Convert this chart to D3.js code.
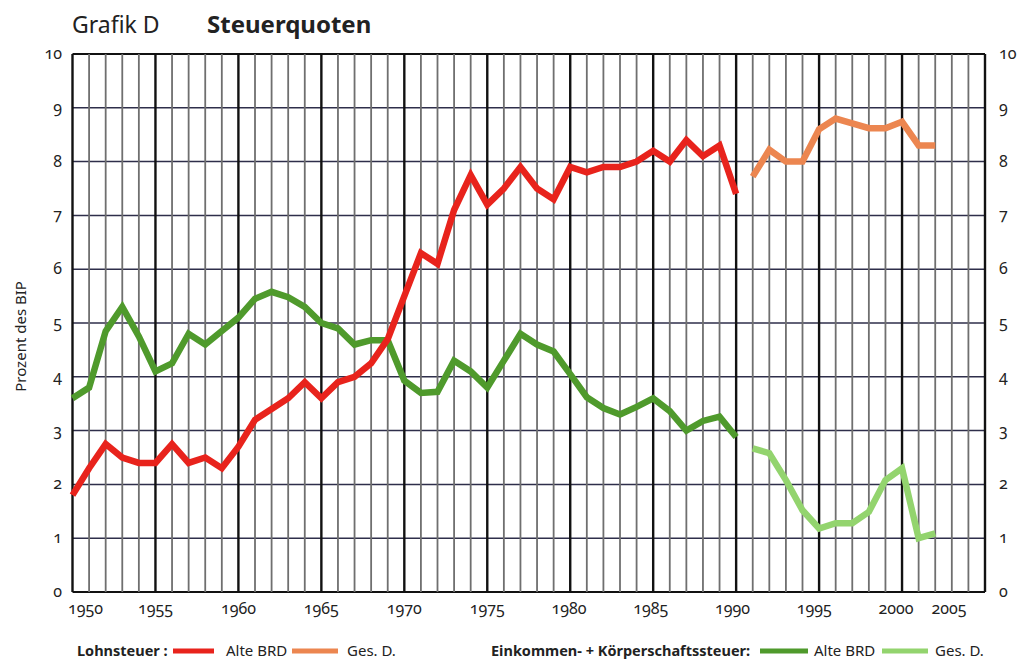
<!DOCTYPE html>
<html>
<head>
<meta charset="utf-8">
<script src="https://cdn.jsdelivr.net/npm/d3@7"></script>
<style>
body { margin: 0; background: #fff; }
svg text { font-family: "Noto Sans", "Open Sans", sans-serif; fill: #222; }
.num { font-variant-numeric: oldstyle-nums; }
</style>
</head>
<body>
<div id="chart"></div>
<script>
var width = 1017
var height = 662

var margin = {
    top: 54,
    bottom: 70,
    left: 72.5,
    right: 32
}

// Lohnsteuer, Alte BRD 1950-1990
var yearsAlt = d3.range(1950, 1991)
var lohnAlt = [1.8, 2.3, 2.75, 2.5, 2.4, 2.4, 2.75, 2.4, 2.5, 2.3,
    2.7, 3.2, 3.4, 3.6, 3.9, 3.6, 3.9, 4.0, 4.25, 4.7,
    5.5, 6.3, 6.1, 7.1, 7.75, 7.2, 7.5, 7.9, 7.5, 7.3,
    7.9, 7.8, 7.9, 7.9, 8.0, 8.2, 8.0, 8.4, 8.1, 8.3, 7.4]
// Einkommen- + Koerperschaftssteuer, Alte BRD 1950-1990
var ekstAlt = [3.6, 3.8, 4.85, 5.3, 4.75, 4.1, 4.25, 4.8, 4.6, 4.85,
    5.1, 5.45, 5.58, 5.48, 5.3, 5.0, 4.9, 4.6, 4.68, 4.68,
    3.93, 3.7, 3.72, 4.3, 4.1, 3.8, 4.3, 4.8, 4.6, 4.47,
    4.05, 3.62, 3.42, 3.3, 3.44, 3.6, 3.36, 3.0, 3.18, 3.26, 2.88]

// Gesamtdeutschland 1991-2002
var yearsGes = d3.range(1991, 2003)
var lohnGes = [7.72, 8.22, 8.0, 8.0, 8.6, 8.8, 8.71, 8.62, 8.62, 8.74, 8.3, 8.3]
var ekstGes = [2.67, 2.58, 2.08, 1.52, 1.18, 1.28, 1.28, 1.49, 2.08, 2.3, 1.0, 1.09]

var xTickYears = [1950, 1955, 1960, 1965, 1970, 1975, 1980, 1985, 1990, 1995, 2000, 2005]
var yTicks = d3.range(0, 11)

var colors = {
    lohnAlt: "#e8231c",
    lohnGes: "#ec8650",
    ekstAlt: "#4f9a2c",
    ekstGes: "#93d46e"
}

var svg = d3.select("#chart").append("svg").attr("width", width).attr("height", height)

var xScale = d3.scaleLinear().domain([1950, 2005]).range([margin.left, width - margin.right])
var yScale = d3.scaleLinear().domain([0, 10]).range([height - margin.bottom, margin.top])
// year labels in the original drift slightly left of their grid lines
var labelScale = d3.scaleLinear()
    .domain([1950, 1955, 1975, 2000, 2005])
    .range([xScale(1950) + 13, xScale(1955), xScale(1975), xScale(2000) - 6, xScale(2005) - 36])

// title
svg.append("text").attr("x", 72).attr("y", 33).attr("font-size", 23).text("Grafik D")
svg.append("text").attr("x", 207).attr("y", 33).attr("font-size", 24).attr("font-weight", "bold").text("Steuerquoten")

// grid
var grid = svg.append("g")
grid.selectAll("line.h")
    .data(yTicks)
    .enter()
    .append("line")
    .attr("x1", xScale(1950))
    .attr("x2", xScale(2005))
    .attr("y1", function(d) { return yScale(d) })
    .attr("y2", function(d) { return yScale(d) })
    .attr("stroke", function(d) { return (d == 0 || d == 10) ? "#111" : "#2e2e4a" })
    .attr("stroke-width", function(d) { return (d == 0 || d == 10) ? 2 : 1.5 })

grid.selectAll("line.v")
    .data(d3.range(1950, 2006))
    .enter()
    .append("line")
    .attr("x1", function(d) { return xScale(d) })
    .attr("x2", function(d) { return xScale(d) })
    .attr("y1", yScale(10))
    .attr("y2", yScale(0))
    .attr("stroke", function(d) { return d % 5 == 0 ? "#111" : "#6f6f6f" })
    .attr("stroke-width", function(d) { return d % 5 == 0 ? 2.4 : 1.8 })

// axis labels
svg.selectAll("text.yl")
    .data(yTicks)
    .enter()
    .append("text")
    .attr("class", "num")
    .attr("x", 62)
    .attr("y", function(d) { return yScale(d) + 5 })
    .attr("text-anchor", "end")
    .attr("font-size", 16)
    .attr("fill", "#333")
    .text(function(d) { return d })

svg.selectAll("text.yr")
    .data(yTicks)
    .enter()
    .append("text")
    .attr("class", "num")
    .attr("x", 999)
    .attr("y", function(d) { return yScale(d) + 5 })
    .attr("font-size", 16)
    .text(function(d) { return d })

svg.selectAll("text.xl")
    .data(xTickYears)
    .enter()
    .append("text")
    .attr("class", "num")
    .attr("x", function(d) { return labelScale(d) })
    .attr("y", 614)
    .attr("text-anchor", "middle")
    .attr("font-size", 16)
    .text(function(d) { return d })

svg.append("text")
    .attr("transform", "translate(26," + yScale(4.75) + ") rotate(-90)")
    .attr("text-anchor", "middle")
    .attr("font-size", 15)
    .attr("fill", "#333")
    .text("Prozent des BIP")

// series
var line = d3.line()
    .x(function(d) { return xScale(d.year) })
    .y(function(d) { return yScale(d.value) })

var series = [
    { key: "ekstAlt", years: yearsAlt, values: ekstAlt },
    { key: "lohnAlt", years: yearsAlt, values: lohnAlt },
    { key: "lohnGes", years: yearsGes, values: lohnGes },
    { key: "ekstGes", years: yearsGes, values: ekstGes }
]

svg.selectAll("path.series")
    .data(series)
    .enter()
    .append("path")
    .attr("d", function(s) {
        return line(s.values.map(function(v, i) { return { year: s.years[i], value: v } }))
    })
    .attr("fill", "none")
    .attr("stroke", function(s) { return colors[s.key] })
    .attr("stroke-width", 6.5)
    .attr("stroke-linejoin", "miter")

// legend
var legY = 651
function legendItem(x, label, bold) {
    return svg.append("text").attr("x", x).attr("y", legY + 5).attr("font-size", bold ? 14.5 : 15)
        .attr("font-weight", bold ? "bold" : "normal").text(label)
}
function swatch(x1, x2, color) {
    svg.append("line").attr("x1", x1).attr("x2", x2).attr("y1", legY).attr("y2", legY)
        .attr("stroke", color).attr("stroke-width", 5)
}
legendItem(77, "Lohnsteuer :", true)
swatch(173, 214, colors.lohnAlt)
legendItem(226, "Alte BRD", false)
swatch(292, 338, colors.lohnGes)
legendItem(347, "Ges. D.", false)

legendItem(491, "Einkommen- + Körperschaftssteuer:", true)
swatch(760, 808, colors.ekstAlt)
legendItem(814, "Alte BRD", false)
swatch(882, 928, colors.ekstGes)
legendItem(935, "Ges. D.", false)
</script>
</body>
</html>
